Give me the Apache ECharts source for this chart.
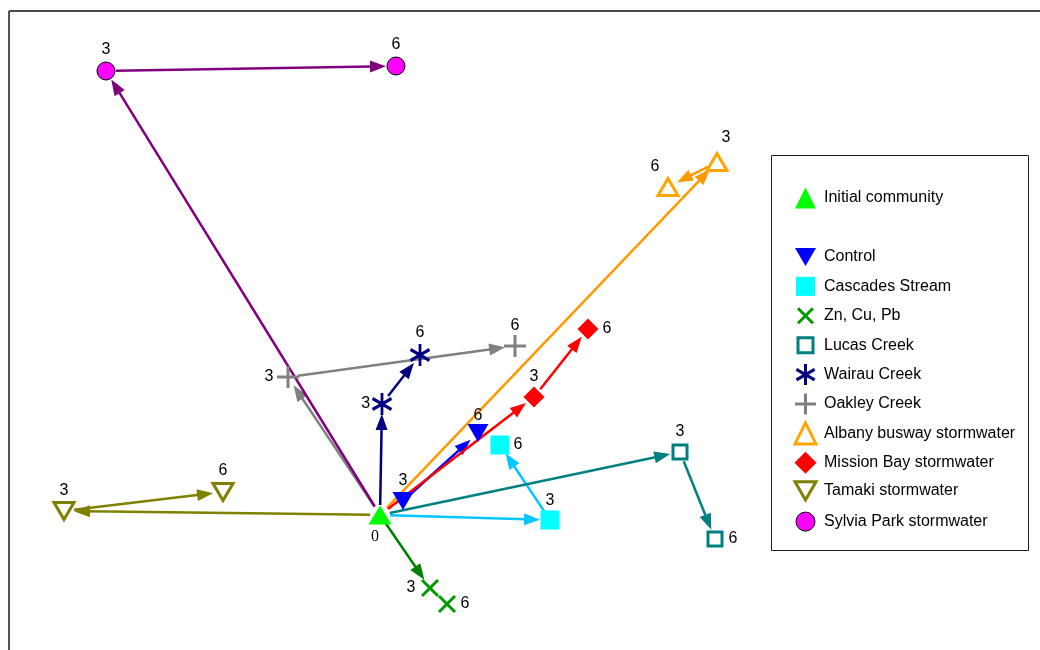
<!DOCTYPE html>
<html>
<head>
<meta charset="utf-8">
<script src="https://cdn.jsdelivr.net/npm/echarts@6/dist/echarts.min.js"></script>
<style>
  html, body { margin: 0; padding: 0; background: #fff; }
  #chart { width: 1040px; height: 650px; }
</style>
</head>
<body>
<div id="chart"></div>
<script>
// Ordination coordinates (axis units) for each treatment at day 3 and day 6,
// all starting from the initial community at the origin.
const initialCommunity = [0, 0];
const control        = [[0.23, 0.14], [0.98, 0.82]];
const cascades       = [[1.70, -0.05], [1.20, 0.70]];
const metals         = [[0.50, -0.73], [0.67, -0.89]];
const lucas          = [[3.00, 0.63], [3.35, -0.24]];
const wairau         = [[0.02, 1.11], [0.40, 1.60]];
const oakley         = [[-0.92, 1.38], [1.35, 1.69]];
const albany         = [[3.37, 3.53], [2.88, 3.28]];
const missionBay     = [[1.54, 1.18], [2.08, 1.86]];
const tamaki         = [[-3.16, 0.04], [-1.57, 0.23]];
const sylviaPark     = [[-2.74, 4.44], [0.16, 4.49]];

const timeLabels = ['3', '6'];
const initialLabel = '0';

const FONT = '"Liberation Sans", Arial, sans-serif';
const FONT_SIZE = 16;

// Symbol shapes
const P_X = 'path://M0,0L20,20M20,0L0,20';
const P_PLUS = 'path://M10,0L10,20M0,10L20,10';
const P_STAR = 'path://M10,0L10,20M1.34,5L18.66,15M1.34,15L18.66,5';
const P_DOWN = 'path://M0,0L20,0L10,17.32Z';
const CLEAR = 'rgba(0,0,0,0)';

// Styling per treatment: name, points, marker, arrow colour, label placement
const groups = [
  { name: 'Control', pts: control, arrow: '#0000ff',
    symbol: P_DOWN, size: [21, 18], legendSize: 21, item: { color: '#0000ff' },
    labels: [{ position: 'top', distance: 3 }, { position: 'top', distance: 0 }] },
  { name: 'Cascades Stream', pts: cascades, arrow: '#00c8ff',
    symbol: 'rect', size: 19, legendSize: 19, item: { color: '#00ffff' },
    labels: [{ position: 'top', distance: 2 }, { position: 'right', distance: 4 }] },
  { name: 'Zn, Cu, Pb', pts: metals, arrow: '#008000',
    symbol: P_X, size: 16, legendSize: 15, item: { color: CLEAR, borderColor: '#009900', borderWidth: 3 },
    labels: [{ position: 'left', distance: 5 }, { position: 'right', distance: 4 }] },
  { name: 'Lucas Creek', pts: lucas, arrow: '#008080',
    symbol: 'rect', size: 14, legendSize: 15, item: { color: CLEAR, borderColor: '#008080', borderWidth: 3 },
    labels: [{ position: 'top', distance: 4 }, { position: 'right', distance: 5 }] },
  { name: 'Wairau Creek', pts: wairau, arrow: '#000080',
    symbol: P_STAR, size: [19, 22], legendSize: 21, legendWidthRatio: 0.866,
    item: { color: CLEAR, borderColor: '#000080', borderWidth: 3 },
    labels: [{ position: 'left', distance: 1 }, { position: 'top', distance: 2 }] },
  { name: 'Oakley Creek', pts: oakley, arrow: '#808080',
    symbol: P_PLUS, size: 22, legendSize: 21, item: { color: CLEAR, borderColor: '#808080', borderWidth: 3 },
    labels: [{ position: 'left', distance: 2 }, { position: 'top', distance: 0 }] },
  { name: 'Albany busway stormwater', pts: albany, arrow: '#ff9900',
    symbol: 'triangle', size: [20, 17], legendSize: 21, item: { color: CLEAR, borderColor: '#ffa500', borderWidth: 3 },
    labels: [{ position: 'top', offset: [9, -2] }, { position: 'top', offset: [-13, 2] }] },
  { name: 'Mission Bay stormwater', pts: missionBay, arrow: '#ff0000',
    symbol: 'diamond', size: 21, legendSize: 22, item: { color: '#ff0000' },
    labels: [{ position: 'top', distance: 2 }, { position: 'right', distance: 4 }] },
  { name: 'Tamaki stormwater', pts: tamaki, arrow: '#808000',
    symbol: P_DOWN, size: [20, 17], legendSize: 21, item: { color: CLEAR, borderColor: '#808000', borderWidth: 3 },
    labels: [{ position: 'top', distance: 3 }, { position: 'top', distance: 4 }] },
  { name: 'Sylvia Park stormwater', pts: sylviaPark, arrow: '#800080',
    symbol: 'circle', size: 18, legendSize: 19, item: { color: '#ff00ff', borderColor: '#000', borderWidth: 1 },
    labels: [{ position: 'top', distance: 4 }, { position: 'top', distance: 4 }] }
];

const GAP_START = 10;
const GAP_END = 10;
const HEAD_LEN = 16;
const HEAD_HALF = 6;

function arrowRenderer(color) {
  return function (params, api) {
    const p1 = api.coord([api.value(0), api.value(1)]);
    const p2 = api.coord([api.value(2), api.value(3)]);
    const dx = p2[0] - p1[0], dy = p2[1] - p1[1];
    const len = Math.hypot(dx, dy);
    if (len < GAP_START + GAP_END + HEAD_LEN) return null;
    const ux = dx / len, uy = dy / len;
    const s = [p1[0] + ux * GAP_START, p1[1] + uy * GAP_START];
    const tip = [p2[0] - ux * GAP_END, p2[1] - uy * GAP_END];
    const base = [tip[0] - ux * HEAD_LEN, tip[1] - uy * HEAD_LEN];
    const nx = -uy, ny = ux;
    return {
      type: 'group',
      children: [
        { type: 'line', shape: { x1: s[0], y1: s[1], x2: base[0] + ux * 2, y2: base[1] + uy * 2 },
          style: { stroke: color, lineWidth: 2.5 } },
        { type: 'polygon',
          shape: { points: [tip, [base[0] + nx * HEAD_HALF, base[1] + ny * HEAD_HALF], [base[0] - nx * HEAD_HALF, base[1] - ny * HEAD_HALF]] },
          style: { fill: color } }
      ]
    };
  };
}

const series = [];

// Arrows: origin -> day 3 -> day 6
groups.forEach(g => {
  series.push({
    name: g.name + ' path',
    type: 'custom',
    coordinateSystem: 'cartesian2d',
    renderItem: arrowRenderer(g.arrow),
    silent: true,
    z: 1,
    data: [
      [initialCommunity[0], initialCommunity[1], g.pts[0][0], g.pts[0][1]],
      [g.pts[0][0], g.pts[0][1], g.pts[1][0], g.pts[1][1]]
    ]
  });
});

const labelBase = { show: true, color: '#000', fontSize: FONT_SIZE, fontFamily: FONT };

// Markers
groups.forEach(g => {
  series.push({
    name: g.name,
    type: 'scatter',
    z: 3,
    symbol: g.symbol,
    symbolSize: g.size,
    itemStyle: Object.assign({ opacity: 1 }, g.item),
    data: g.pts.map((p, i) => ({
      value: p,
      label: Object.assign({}, labelBase, { formatter: timeLabels[i] }, g.labels[i])
    }))
  });
});

series.push({
  name: 'Initial community',
  type: 'scatter',
  z: 4,
  symbol: 'triangle',
  symbolSize: [23, 19],
  itemStyle: { color: '#00ff00', opacity: 1 },
  data: [{
    value: initialCommunity,
    label: Object.assign({}, labelBase, {
      formatter: initialLabel, position: 'bottom', offset: [-5, 0], distance: 4,
      fontFamily: '"Liberation Serif", "Times New Roman", serif', fontSize: FONT_SIZE
    })
  }]
});

// One legend per entry so every row sits at a fixed height.
// Each icon is centred on ICON_X; text starts at TEXT_X.
const ICON_X = 805.5;
const TEXT_X = 824;
const legendText = { fontSize: FONT_SIZE, color: '#000', fontFamily: FONT };
function legendEntry(name, centerY, size, border, widthRatio) {
  const b = border || 0;
  const w = size * (widthRatio || 1);
  const d = { name: name };
  if (b) d.itemStyle = { borderWidth: b };
  return {
    left: ICON_X - w / 2 - b / 2,
    top: centerY - size / 2 - b / 2,
    orient: 'vertical', padding: 0,
    itemWidth: size, itemHeight: size, selectedMode: false,
    textStyle: Object.assign({}, legendText, {
      lineHeight: size,
      padding: [0, 0, 0, TEXT_X - ICON_X - size / 2 - 5]
    }),
    data: [d]
  };
}
const legends = [legendEntry('Initial community', 198, 21)];
groups.forEach((g, i) => {
  legends.push(legendEntry(g.name, 257 + i * 29.4, g.legendSize, g.item.borderWidth, g.legendWidthRatio));
});

const option = {
  animation: false,
  backgroundColor: '#fff',
  grid: { left: 0, right: 0, top: 0, bottom: 0, containLabel: false },
  xAxis: { type: 'value', min: -3.8, max: 6.6, show: false },
  yAxis: { type: 'value', min: -1.35, max: 5.15, show: false },
  legend: legends,
  graphic: [
    { type: 'line', shape: { x1: 9, y1: 11, x2: 1040, y2: 11 }, style: { stroke: '#111', lineWidth: 1.5 }, z: 10 },
    { type: 'line', shape: { x1: 9, y1: 11, x2: 9, y2: 650 }, style: { stroke: '#555', lineWidth: 2 }, z: 10 },
    { type: 'rect', shape: { x: 771.5, y: 155.5, width: 257, height: 395 },
      style: { fill: '#fff', stroke: '#222', lineWidth: 1 }, z: -1 }
  ],
  series: series
};

const chart = echarts.init(document.getElementById('chart'), null, { renderer: 'canvas' });
chart.setOption(option);
</script>
</body>
</html>
